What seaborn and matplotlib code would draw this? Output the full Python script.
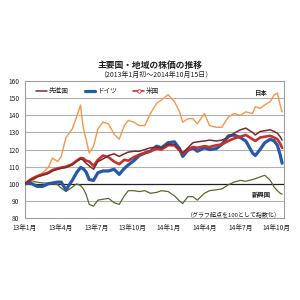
import pandas as pd
import numpy as np
import matplotlib
matplotlib.use("Agg")
import matplotlib.pyplot as plt
import matplotlib.dates as mdates
from matplotlib.lines import Line2D
import seaborn as sns

dates = ["2013-01-01", "2013-01-15", "2013-02-01", "2013-02-15", "2013-03-01", "2013-03-12",
         "2013-03-25", "2013-04-03", "2013-04-15", "2013-05-01", "2013-05-12", "2013-05-22",
         "2013-05-28", "2013-06-05", "2013-06-13", "2013-06-24", "2013-07-05", "2013-07-18",
         "2013-08-01", "2013-08-15", "2013-08-28", "2013-09-10", "2013-09-20", "2013-10-04",
         "2013-10-18", "2013-11-01", "2013-11-15", "2013-12-01", "2013-12-13", "2013-12-30",
         "2014-01-15", "2014-01-28", "2014-02-05", "2014-02-18", "2014-03-03", "2014-03-14",
         "2014-04-01", "2014-04-14", "2014-05-01", "2014-05-15", "2014-06-01", "2014-06-15",
         "2014-07-01", "2014-07-15", "2014-08-01", "2014-08-08", "2014-08-20", "2014-09-01",
         "2014-09-15", "2014-09-25", "2014-10-03", "2014-10-10", "2014-10-15"]

japan = [100, 100.5, 104, 106.5, 109.5, 115, 113, 116, 127, 132, 139, 146,
         134, 126, 118, 122, 132, 136, 135, 129, 126, 134, 137, 136,
         134, 134, 141, 147, 149, 152, 148, 142, 136, 138, 138, 135,
         141, 134, 133, 133, 139, 141, 140, 142, 141, 145, 144, 146,
         148, 152, 153, 146, 142]

germany = [100, 100.5, 98.5, 98.5, 100, 100.5, 101, 101, 96.5, 102, 106.5, 109.5,
           109, 107, 102.5, 102, 106.5, 107.5, 107.5, 108.5, 105.5, 109, 111, 113.5,
           116.5, 118, 119, 122, 121, 124, 124.5, 120.5, 116, 119.5, 121, 119,
           121, 120, 120.5, 123, 128, 128.5, 127, 125, 118, 116.5, 120, 124,
           126, 125, 122.5, 117, 112]

usa = [100, 102.5, 104.5, 105.5, 106.5, 108, 109, 109.5, 110, 111.5, 113.5, 115,
       115, 113.5, 113, 110.5, 114, 116.5, 115.5, 113, 111.5, 114, 113.5, 115.5,
       117, 118, 119, 120.5, 120, 122.5, 122.5, 119.5, 117.5, 120, 121.5, 121,
       122, 121.5, 122.5, 123, 125, 126.5, 127.5, 128.5, 126, 125, 127, 127.5,
       128, 127, 126, 123.5, 121]

developed = [100, 102, 104, 105, 106, 107.5, 108.5, 109, 109.5, 111, 113, 114.5,
             114, 112, 110.5, 108.5, 113, 114.5, 116.5, 117.5, 116, 117.5, 118.5, 119,
             119, 120, 121, 121.5, 121, 123, 123, 120, 118, 121, 124, 124.5,
             125, 125.5, 125, 125.5, 127, 129.5, 131.5, 132.5, 130, 128.5, 130.5, 131,
             131.5, 130.5, 129.5, 127.5, 125.5]

emerging = [100, 101.5, 101, 100.5, 100.5, 100, 99.5, 97.5, 95.5, 98, 100, 99,
            97.5, 94, 88, 87, 90.5, 91, 91.5, 89, 88, 93, 96, 96,
            95.5, 96, 94.5, 95, 96, 95.5, 93, 90, 88.5, 92.5, 92.5, 90.5,
            94.5, 96, 96.5, 97, 99.5, 101, 102, 101.5, 102.5, 103, 104, 105,
            102, 98, 96, 94.5, 94]

series_names = ["先進国", "ドイツ", "米国"]
tick_dates = ["2013-01-01", "2013-04-01", "2013-07-01", "2013-10-01",
              "2014-01-01", "2014-04-01", "2014-07-01", "2014-10-01"]
tick_labels = ["13年1月", "13年4月", "13年7月", "13年10月",
               "14年1月", "14年4月", "14年7月", "14年10月"]
y_ticks = [80, 90, 100, 110, 120, 130, 140, 150, 160]

sns.set_style("white")
plt.rcParams['font.family'] = ['Noto Sans CJK JP', 'DejaVu Sans']

df = pd.DataFrame({"date": pd.to_datetime(dates), "japan": japan, "germany": germany,
                   "usa": usa, "developed": developed, "emerging": emerging})

fig = plt.figure(figsize=(3, 3), dpi=100)
ax = fig.add_axes([0.083, 0.273, 0.864, 0.457])

for y in y_ticks[1:-1]:
    if y == 100:
        ax.axhline(y, color="#202020", lw=0.9, zorder=1)
    else:
        ax.axhline(y, color="#B0B0B0", lw=0.8, zorder=1)

C_JP = "#F79646"
C_DE = "#2858A8"
C_US = "#C8302E"
C_DV = "#7A2A2A"
C_EM = "#566B2A"

sns.lineplot(data=df, x="date", y="emerging", ax=ax, color=C_EM, lw=0.9, zorder=3)
sns.lineplot(data=df, x="date", y="japan", ax=ax, color=C_JP, lw=1.0, zorder=3)
sns.lineplot(data=df, x="date", y="germany", ax=ax, color=C_DE, lw=2.3, zorder=4)
sns.lineplot(data=df, x="date", y="usa", ax=ax, color=C_US, lw=1.9, zorder=5)
sns.lineplot(data=df, x="date", y="developed", ax=ax, color=C_DV, lw=1.1, zorder=6)

ax.set_ylim(80, 160)
ax.set_xlim(pd.Timestamp("2013-01-01"), pd.Timestamp("2014-10-20"))
ax.set_yticks(y_ticks)
ax.set_yticklabels([str(v) for v in y_ticks], fontsize=4.8)
ax.set_xticks(pd.to_datetime(tick_dates))
ax.set_xticklabels(tick_labels, fontsize=4.8)
ax.set_xlabel("")
ax.set_ylabel("")
ax.tick_params(axis="both", length=2, width=0.6, color="#909090", pad=2)
for s in ax.spines.values():
    s.set_color("#A0A0A0")
    s.set_linewidth(0.8)

handles = [Line2D([0], [0], color=C_DV, lw=1.1),
           Line2D([0], [0], color=C_DE, lw=2.3),
           Line2D([0], [0], color=C_US, lw=1.2, marker="o", markersize=2.5,
                  markerfacecolor="white", markeredgewidth=0.6)]
ax.legend(handles, series_names, ncol=3, frameon=False, fontsize=4.8,
          loc="upper left", bbox_to_anchor=(0.02, 1.0), handlelength=1.6,
          handletextpad=0.3, columnspacing=2.4)

fig.text(0.5, 1 - 65 / 300, "主要国・地域の株価の推移", ha="center", va="center",
         fontsize=6.3, fontweight="bold", color="#222222")
fig.text(0.52, 1 - 74.5 / 300, "（2013年1月初～2014年10月15日）", ha="center", va="center",
         fontsize=5, color="#222222")
fig.text(260 / 300, 1 - 92.5 / 300, "日本", ha="center", va="center", fontsize=4.6,
         fontweight="bold", color="#222222")
fig.text(261.5 / 300, 1 - 194.5 / 300, "新興国", ha="center", va="center", fontsize=4.6,
         fontweight="bold", color="#222222")
fig.text(234 / 300, 1 - 214 / 300, "（グラフ起点を100として指数化）", ha="center", va="center",
         fontsize=4.3, color="#222222")

fig.savefig("out.png", dpi=100)
